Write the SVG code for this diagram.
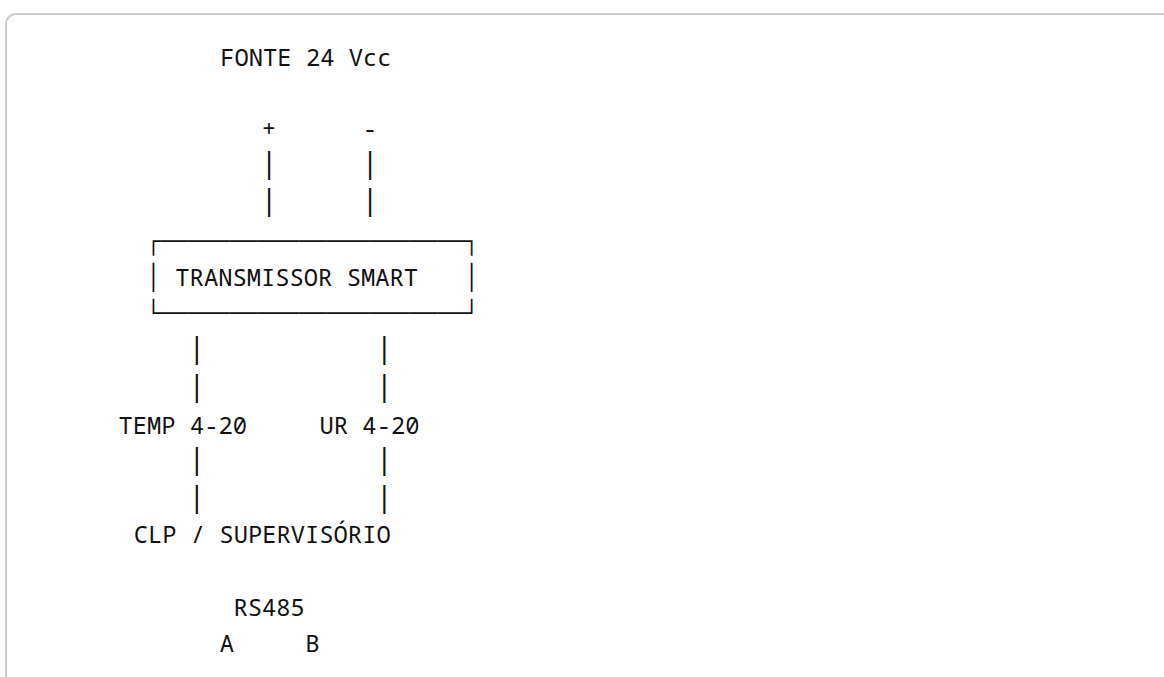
<svg xmlns="http://www.w3.org/2000/svg" width="1164" height="677" viewBox="0 0 1164 677">
<style>
text{font-family:"Noto Sans Mono","DejaVu Sans Mono","Liberation Mono",monospace;font-size:23.8px;fill:#111;white-space:pre}
.c{text-anchor:middle}
.p{font-size:28.5px;text-anchor:middle}
</style>
<rect x="0" y="0" width="1164" height="677" fill="#fff"/>
<rect x="6" y="14" width="1220" height="720" rx="10" ry="10" fill="#fff" stroke="#cccccc" stroke-width="2"/>
<g id="fonte">
<text class="c" x="305.9" y="66">FONTE 24 Vcc</text>
<text class="c" x="269" y="137">+</text>
<text class="c" x="370" y="137">-</text>
</g>
<g id="transmissor">
<text x="146.4" y="249.5" textLength="332.3" lengthAdjust="spacingAndGlyphs">┌──────────────────────┐</text>
<text y="285.5"><tspan class="c" x="153.3">│</tspan><tspan class="c" x="296.7">TRANSMISSOR SMART</tspan><tspan class="c" x="471.7">│</tspan></text>
<text x="146.4" y="321.9" textLength="332.3" lengthAdjust="spacingAndGlyphs">└──────────────────────┘</text>
</g>
<g id="temp"><text class="c" x="182.8" y="433.5">TEMP 4-20</text></g>
<g id="ur"><text class="c" x="369.5" y="433.5">UR 4-20</text></g>
<g id="clp"><text class="c" x="262.2" y="543.3">CLP / SUPERVISÓRIO</text></g>
<g id="rs485">
<text class="c" x="269.2" y="616">RS485</text>
<text class="c" x="269.65" y="651.7">A     B</text>
</g>
<g id="connectors">
<text class="p" x="269" y="173.3">|</text>
<text class="p" x="370" y="173.3">|</text>
<text class="p" x="269" y="210">|</text>
<text class="p" x="370" y="210">|</text>
<text class="p" x="196.7" y="358.3">|</text>
<text class="p" x="384.3" y="358.3">|</text>
<text class="p" x="196.7" y="396">|</text>
<text class="p" x="384.3" y="396">|</text>
<text class="p" x="196.7" y="469.3">|</text>
<text class="p" x="384.3" y="469.3">|</text>
<text class="p" x="196.7" y="506.6">|</text>
<text class="p" x="384.3" y="506.6">|</text>
</g>
</svg>
